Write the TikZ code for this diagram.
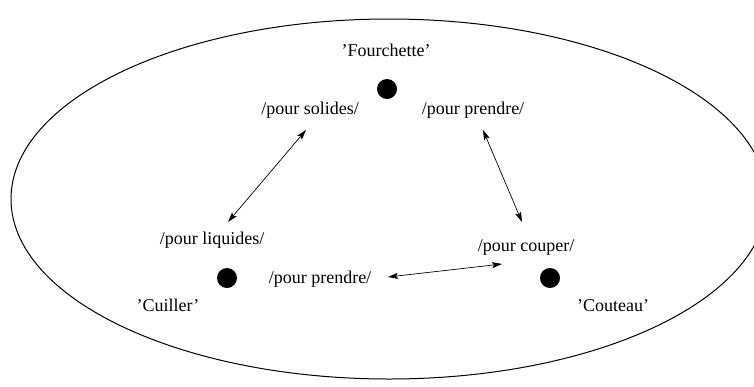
\documentclass[tikz,border=0pt]{standalone}
\usepackage{fontspec}
\setmainfont{Liberation Serif}
\usetikzlibrary{arrows.meta}
\tikzset{
  dot/.style={circle,fill=black,inner sep=0pt,minimum size=20pt},
  sens/.style={anchor=base,inner sep=0pt},
  rel/.style={{Stealth[length=10pt,width=6pt,inset=2pt]}-{Stealth[length=10pt,width=6pt,inset=2pt]},line width=0.7pt}
}
\begin{document}
\begin{tikzpicture}[x=1pt,y=-1pt,font=\fontsize{18}{22}\selectfont]
    \useasboundingbox (0,0) rectangle (754,386);
    \draw[line width=1pt] (389,199) ellipse [x radius=378, y radius=180];
    % objets
    \node[dot] (fourchette) at (387,89) {};
    \node[dot] (cuiller) at (227,278) {};
    \node[dot] (couteau) at (550,278) {};
    \node[sens] (nomF) at (386,56) {'Fourchette'};
    \node[sens] (nomCu) at (168,311) {'Cuiller'};
    \node[sens] (nomCo) at (613,311) {'Couteau'};
    % sens
    \node[sens] (solides) at (310,114) {/pour solides/};
    \node[sens] (prendreF) at (473,114) {/pour prendre/};
    \node[sens] (liquides) at (212,244) {/pour liquides/};
    \node[sens] (couper) at (526,251) {/pour couper/};
    \node[sens] (prendreCu) at (320,283) {/pour prendre/};
    \coordinate (s1) at (306,130);
    \coordinate (l1) at (228,222);
    \coordinate (p1) at (483,130);
    \coordinate (c1) at (522,222);
    \coordinate (p2) at (388,277);
    \coordinate (c2) at (502,264);
    \draw[rel] (s1) -- (l1);
    \draw[rel] (p1) -- (c1);
    \draw[rel] (p2) -- (c2);
\end{tikzpicture}
\end{document}
